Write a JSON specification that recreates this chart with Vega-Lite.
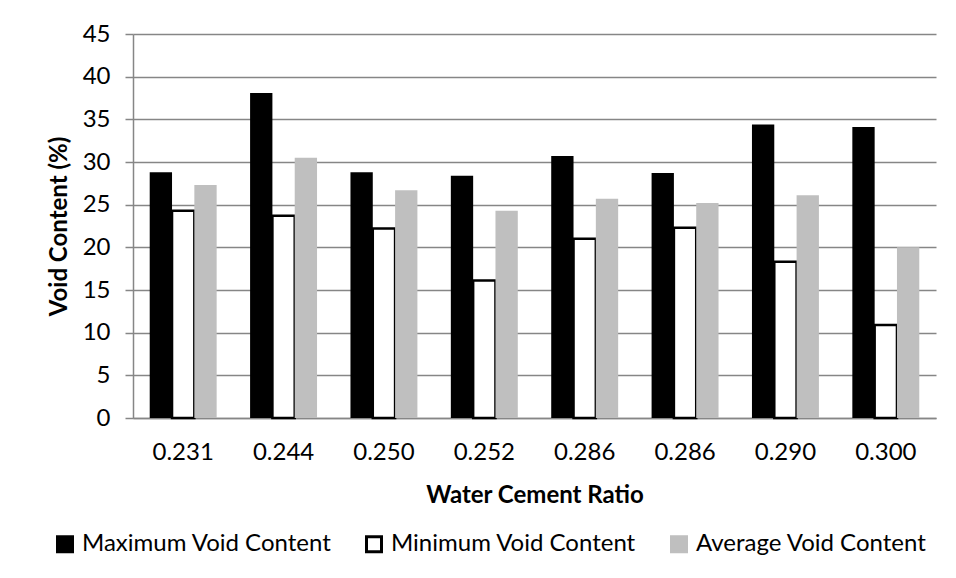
{
  "$schema": "https://vega.github.io/schema/vega-lite/v6.json",
  "width": 803,
  "height": 384,
  "autosize": {"type": "none"},
  "padding": {"left": 133, "top": 34, "right": 20, "bottom": 160},
  "background": "#ffffff",
  "config": {
    "font": "Lato",
    "view": {"stroke": null},
    "axis": {"labelFont": "Lato", "titleFont": "Lato", "labelColor": "#000000", "titleColor": "#000000"},
    "legend": {"labelFont": "Lato"}
  },
  "data": {
    "values": [
      {"ratio": "0.231", "series": "Maximum Void Content", "value": 28.8},
      {"ratio": "0.231", "series": "Minimum Void Content", "value": 24.3},
      {"ratio": "0.231", "series": "Average Void Content", "value": 27.3},
      {"ratio": "0.244", "series": "Maximum Void Content", "value": 38.1},
      {"ratio": "0.244", "series": "Minimum Void Content", "value": 23.7},
      {"ratio": "0.244", "series": "Average Void Content", "value": 30.5},
      {"ratio": "0.250", "series": "Maximum Void Content", "value": 28.8},
      {"ratio": "0.250", "series": "Minimum Void Content", "value": 22.2},
      {"ratio": "0.250", "series": "Average Void Content", "value": 26.7},
      {"ratio": "0.252", "series": "Maximum Void Content", "value": 28.4},
      {"ratio": "0.252", "series": "Minimum Void Content", "value": 16.1},
      {"ratio": "0.252", "series": "Average Void Content", "value": 24.3},
      {"ratio": "0.286", "series": "Maximum Void Content", "value": 30.7},
      {"ratio": "0.286", "series": "Minimum Void Content", "value": 21.0},
      {"ratio": "0.286", "series": "Average Void Content", "value": 25.7},
      {"ratio": "0.286 ", "series": "Maximum Void Content", "value": 28.7},
      {"ratio": "0.286 ", "series": "Minimum Void Content", "value": 22.3},
      {"ratio": "0.286 ", "series": "Average Void Content", "value": 25.2},
      {"ratio": "0.290", "series": "Maximum Void Content", "value": 34.4},
      {"ratio": "0.290", "series": "Minimum Void Content", "value": 18.3},
      {"ratio": "0.290", "series": "Average Void Content", "value": 26.1},
      {"ratio": "0.300", "series": "Maximum Void Content", "value": 34.1},
      {"ratio": "0.300", "series": "Minimum Void Content", "value": 10.9},
      {"ratio": "0.300", "series": "Average Void Content", "value": 20.0}
    ]
  },
  "mark": {"type": "bar"},
  "encoding": {
    "x": {
      "field": "ratio",
      "type": "nominal",
      "sort": null,
      "scale": {"paddingInner": 0.333, "paddingOuter": 0.1665},
      "axis": {
        "title": "Water Cement Ratio",
        "titleFontSize": 24,
        "titleFontWeight": "bold",
        "titlePadding": 19,
        "labelAngle": 0,
        "labelFontSize": 24,
        "labelPadding": 22,
        "ticks": false,
        "tickSize": 0,
        "domainColor": "#868686",
        "domainWidth": 1.5,
        "grid": false
      }
    },
    "xOffset": {
      "field": "series",
      "type": "nominal",
      "sort": ["Maximum Void Content", "Minimum Void Content", "Average Void Content"],
      "scale": {"paddingInner": 0, "paddingOuter": 0}
    },
    "y": {
      "field": "value",
      "type": "quantitative",
      "scale": {"domain": [0, 45], "nice": false},
      "axis": {
        "title": "Void Content (%)",
        "titleFontSize": 24,
        "titleFontWeight": "bold",
        "titlePadding": 11,
        "values": [0, 5, 10, 15, 20, 25, 30, 35, 40, 45],
        "labelFontSize": 24,
        "labelPadding": 15,
        "tickSize": 8,
        "tickColor": "#868686",
        "tickWidth": 1.5,
        "domainColor": "#868686",
        "domainWidth": 1.5,
        "gridColor": "#868686",
        "gridWidth": 1.5
      }
    },
    "fill": {
      "field": "series",
      "type": "nominal",
      "sort": ["Maximum Void Content", "Minimum Void Content", "Average Void Content"],
      "scale": {
        "domain": ["Maximum Void Content", "Minimum Void Content", "Average Void Content"],
        "range": ["#000000", "#ffffff", "#bfbfbf"]
      },
      "legend": {
        "title": null,
        "orient": "none",
        "direction": "horizontal",
        "legendX": -80,
        "legendY": 498,
        "labelFontSize": 24,
        "labelLimit": 400,
        "labelColor": "#000000",
        "symbolType": "square",
        "symbolSize": 225,
        "symbolStrokeWidth": 3,
        "labelOffset": 5,
        "columnPadding": 28
      }
    },
    "stroke": {
      "field": "series",
      "type": "nominal",
      "sort": ["Maximum Void Content", "Minimum Void Content", "Average Void Content"],
      "scale": {
        "domain": ["Maximum Void Content", "Minimum Void Content", "Average Void Content"],
        "range": ["#000000", "#000000", "#bfbfbf"]
      },
      "legend": {
        "title": null,
        "orient": "none",
        "direction": "horizontal",
        "legendX": -80,
        "legendY": 498,
        "labelFontSize": 24,
        "labelLimit": 400,
        "labelColor": "#000000",
        "symbolType": "square",
        "symbolSize": 225,
        "symbolStrokeWidth": 3,
        "labelOffset": 5,
        "columnPadding": 28
      }
    },
    "strokeWidth": {
      "condition": {"test": "datum.series === 'Minimum Void Content'", "value": 2.5},
      "value": 0
    }
  }
}
